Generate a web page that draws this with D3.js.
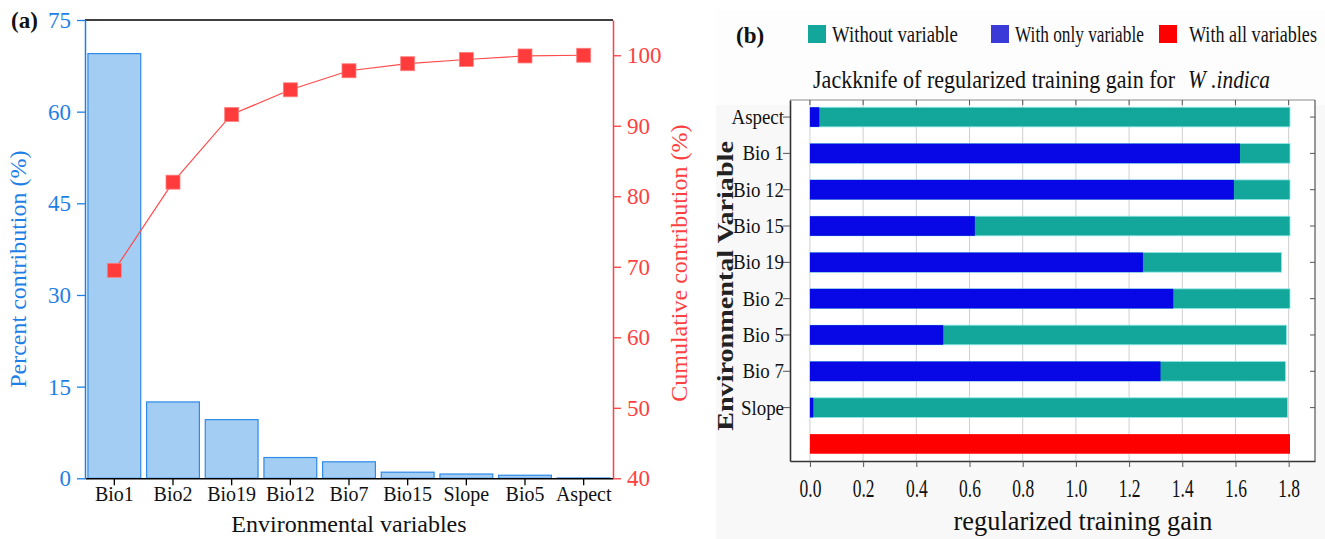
<!DOCTYPE html>
<html>
<head>
<meta charset="utf-8">
<script src="https://cdn.jsdelivr.net/npm/d3@7"></script>
<style>
  body { margin: 0; background: #fff; }
  svg { display: block; }
  text { font-family: "Liberation Serif", "Times New Roman", serif; }
</style>
</head>
<body>
<svg id="chart" width="1325" height="539"></svg>
<script>
// ---------- Panel (a) data ----------
const varsA = ["Bio1", "Bio2", "Bio19", "Bio12", "Bio7", "Bio15", "Slope", "Bio5", "Aspect"];
const percentContribution = [69.5, 12.5, 9.6, 3.4, 2.7, 1.0, 0.7, 0.5, 0.05];
const cumulativeContribution = [69.5, 82.0, 91.6, 95.1, 97.8, 98.8, 99.4, 99.9, 100.0];
const leftTicks = [0, 15, 30, 45, 60, 75];
const rightTicks = [40, 50, 60, 70, 80, 90, 100];

// ---------- Panel (b) data ----------
const varsB = ["Aspect", "Bio 1", "Bio 12", "Bio 15", "Bio 19", "Bio 2", "Bio 5", "Bio 7", "Slope"];
const withoutVariable = [1.805, 1.805, 1.805, 1.805, 1.773, 1.805, 1.792, 1.788, 1.796];
const withOnlyVariable = [0.035, 1.617, 1.594, 0.62, 1.252, 1.366, 0.501, 1.318, 0.0125];
const withAllVariables = 1.805;
const gainTicks = [0.0, 0.2, 0.4, 0.6, 0.8, 1.0, 1.2, 1.4, 1.6, 1.8];
const legendLabels = ["Without variable", "With only variable", "With all variables"];

const svg = d3.select("#chart");
const serif = '"Liberation Serif", "Times New Roman", serif';

// helper: place text at (x,y) and compress horizontally to a target width
function fitText(parent, str, x, y, size, target, opts = {}) {
  const g = parent.append("g");
  const t = g.append("text").attr("font-size", size).attr("fill", opts.fill || "#111")
    .attr("font-style", opts.italic ? "italic" : null)
    .attr("font-weight", opts.bold ? "bold" : null)
    .attr("text-anchor", opts.anchor || "start")
    .text(str);
  const w = t.node().getComputedTextLength();
  const s = target / w;
  g.attr("transform", `translate(${x},${y})${opts.rotate ? " rotate(" + opts.rotate + ")" : ""} scale(${s},1)`);
  return g;
}

// ====================== PANEL A ======================
const A = { left: 85, right: 613, top: 20, bottom: 478.3 };
const blue = "#1f7fe6", red = "#ff4040";

const xA = d3.scaleBand().domain(varsA).range([A.left, A.right]).paddingInner(0.1).paddingOuter(0.05);
const yL = d3.scaleLinear().domain([0, 75]).range([A.bottom, A.top]);
const yR = d3.scaleLinear().domain([40, 105]).range([A.bottom, A.top]);

const gA = svg.append("g");

gA.append("line").attr("x1", A.left).attr("x2", A.right).attr("y1", A.top).attr("y2", A.top)
  .attr("stroke", "#000").attr("stroke-width", 1.5);

gA.selectAll("rect.bar").data(varsA).join("rect")
  .attr("class", "bar")
  .attr("x", d => xA(d))
  .attr("width", xA.bandwidth())
  .attr("y", (d, i) => yL(percentContribution[i]))
  .attr("height", (d, i) => A.bottom - yL(percentContribution[i]))
  .attr("fill", "#a3cdf3")
  .attr("stroke", "#2f8ae8")
  .attr("stroke-width", 1.2);

const axB = gA.append("g").attr("transform", `translate(0,${A.bottom})`)
  .call(d3.axisBottom(xA).tickSize(7).tickSizeOuter(0));
axB.select(".domain").attr("stroke", "#000").attr("stroke-width", 1.5);
axB.selectAll(".tick line").attr("stroke", "#000").attr("stroke-width", 1.3);
axB.selectAll(".tick text").attr("font-size", 20).attr("fill", "#111").attr("dy", "0.3em").attr("y", 17)
  .style("font-family", serif);

const axL = gA.append("g").attr("transform", `translate(${A.left},0)`)
  .call(d3.axisLeft(yL).tickValues(leftTicks).tickSize(8).tickSizeOuter(0));
axL.select(".domain").attr("stroke", blue).attr("stroke-width", 1.5);
axL.selectAll(".tick line").attr("stroke", blue).attr("stroke-width", 1.3);
axL.selectAll(".tick text").attr("font-size", 23).attr("fill", blue).attr("x", -14)
  .style("font-family", serif);

const axR = gA.append("g").attr("transform", `translate(${A.right},0)`)
  .call(d3.axisRight(yR).tickValues(rightTicks).tickSize(8).tickSizeOuter(0));
axR.select(".domain").attr("stroke", red).attr("stroke-width", 1.5);
axR.selectAll(".tick line").attr("stroke", red).attr("stroke-width", 1.3);
axR.selectAll(".tick text").attr("font-size", 23).attr("fill", red).attr("x", 14)
  .style("font-family", serif);

const lineA = d3.line().x((d, i) => xA(varsA[i]) + xA.bandwidth() / 2).y(d => yR(d));
gA.append("path").datum(cumulativeContribution).attr("d", lineA)
  .attr("fill", "none").attr("stroke", "#ff4a4a").attr("stroke-width", 1.2);
gA.selectAll("rect.mk").data(cumulativeContribution).join("rect")
  .attr("class", "mk")
  .attr("x", (d, i) => xA(varsA[i]) + xA.bandwidth() / 2 - 7)
  .attr("y", d => yR(d) - 7)
  .attr("width", 14).attr("height", 14)
  .attr("fill", "#ff3b3b").attr("stroke", "#ff8080").attr("stroke-width", 0.8);

gA.append("text").attr("transform", `translate(26,${(A.top + A.bottom) / 2 + 20}) rotate(-90)`)
  .attr("text-anchor", "middle").attr("font-size", 24).attr("fill", blue).text("Percent contribution (%)");
gA.append("text").attr("transform", `translate(687,${(A.top + A.bottom) / 2 + 14}) rotate(-90)`)
  .attr("text-anchor", "middle").attr("font-size", 24).attr("fill", red).text("Cumulative contribution (%)");
gA.append("text").attr("x", 349).attr("y", 532).attr("text-anchor", "middle")
  .attr("font-size", 24).attr("fill", "#111").text("Environmental variables");
gA.append("text").attr("x", 11).attr("y", 28).attr("font-size", 23).attr("font-weight", "bold")
  .attr("fill", "#111").text("(a)");

// ====================== PANEL B ======================
const B = { left: 790, right: 1315, top: 100, bottom: 461 };
const teal = "#12a79a", dblue = "#0808e6", bred = "#ff0000";
const gB = svg.append("g");

gB.append("rect").attr("x", 716).attr("y", 10).attr("width", 609).attr("height", 529).attr("fill", "#f8f8f8");
gB.append("rect").attr("x", 716).attr("y", 10).attr("width", 609).attr("height", 95).attr("fill", "#fdfdfd");

const xB = d3.scaleLinear().domain([-0.075, 1.899]).range([B.left, B.right]);
const rowsB = varsB.concat(["__all__"]);
const yB = d3.scaleBand().domain(rowsB).range([B.top, B.bottom]).paddingInner(0.46).paddingOuter(0.2);

gB.append("rect").attr("x", B.left).attr("y", B.top).attr("width", B.right - B.left).attr("height", B.bottom - B.top)
  .attr("fill", "#fff");

gB.selectAll("line.grid").data(gainTicks).join("line").attr("class", "grid")
  .attr("x1", d => xB(d)).attr("x2", d => xB(d)).attr("y1", B.top).attr("y2", B.bottom)
  .attr("stroke", "#cfcfcf").attr("stroke-width", 1);

const bw = yB.bandwidth();
gB.selectAll("rect.wo").data(varsB).join("rect").attr("class", "wo")
  .attr("x", xB(0)).attr("y", d => yB(d))
  .attr("width", (d, i) => xB(withoutVariable[i]) - xB(0)).attr("height", bw)
  .attr("fill", teal).attr("stroke", "#8fe6e6").attr("stroke-width", 0.8);
gB.selectAll("rect.only").data(varsB).join("rect").attr("class", "only")
  .attr("x", xB(0)).attr("y", d => yB(d))
  .attr("width", (d, i) => xB(withOnlyVariable[i]) - xB(0)).attr("height", bw)
  .attr("fill", dblue);
gB.append("rect").attr("x", xB(0)).attr("y", yB("__all__"))
  .attr("width", xB(withAllVariables) - xB(0)).attr("height", bw).attr("fill", bred);

gB.append("line").attr("x1", B.left).attr("x2", B.right).attr("y1", B.top).attr("y2", B.top)
  .attr("stroke", "#8a8a8a").attr("stroke-width", 1);
gB.append("line").attr("x1", B.right).attr("x2", B.right).attr("y1", B.top).attr("y2", B.bottom)
  .attr("stroke", "#555").attr("stroke-width", 1.2);
gB.selectAll("line.tt").data(gainTicks).join("line").attr("class", "tt")
  .attr("x1", d => xB(d)).attr("x2", d => xB(d)).attr("y1", B.top).attr("y2", B.top + 5)
  .attr("stroke", "#555");
gB.selectAll("line.rt").data(varsB).join("line").attr("class", "rt")
  .attr("x1", B.right - 5).attr("x2", B.right).attr("y1", d => yB(d) + bw / 2).attr("y2", d => yB(d) + bw / 2)
  .attr("stroke", "#555");

const axBL = gB.append("g").attr("transform", `translate(${B.left},0)`)
  .call(d3.axisLeft(yB).tickValues(varsB).tickSize(7).tickSizeOuter(0));
axBL.select(".domain").attr("stroke", "#333").attr("stroke-width", 1.6);
axBL.selectAll(".tick line").attr("stroke", "#555");
axBL.selectAll(".tick text").attr("font-size", 22).attr("fill", "#111").attr("x", -7)
  .attr("transform", "scale(0.86,1)")
  .style("font-family", serif);

const axBB = gB.append("g").attr("transform", `translate(0,${B.bottom})`)
  .call(d3.axisBottom(xB).tickValues(gainTicks).tickFormat(d3.format(".1f")).tickSize(6).tickSizeOuter(0));
axBB.select(".domain").attr("stroke", "#333").attr("stroke-width", 1.6);
axBB.selectAll(".tick line").attr("stroke", "#555");
axBB.selectAll(".tick text").attr("font-size", 25).attr("fill", "#111").attr("y", 18)
  .attr("transform", "scale(0.7,1)")
  .style("font-family", serif);

// axis titles
fitText(gB, "regularized training gain", 1083, 530, 27, 259, { anchor: "middle" });
fitText(gB, "Environmental Variable", 733, 286, 24, 290, { anchor: "middle", bold: true, rotate: -90, fill: "#222" });

// title (two parts)
fitText(gB, "Jackknife of regularized training gain for", 813, 88, 26, 362);
fitText(gB, "W .indica", 1188, 88, 26, 82, { italic: true });

gB.append("text").attr("x", 736).attr("y", 43).attr("font-size", 23).attr("font-weight", "bold")
  .attr("fill", "#111").text("(b)");

const legColors = [teal, "#3a3ad8", bred];
const legX = [808, 991, 1159];
const legTextLen = [126, 129, 128];
legendLabels.forEach((lab, i) => {
  gB.append("rect").attr("x", legX[i]).attr("y", 25).attr("width", 18).attr("height", 18).attr("fill", legColors[i]);
  fitText(gB, lab, legX[i] + (i === 2 ? 30 : 24), 42, 23, legTextLen[i]);
});
</script>
</body>
</html>
